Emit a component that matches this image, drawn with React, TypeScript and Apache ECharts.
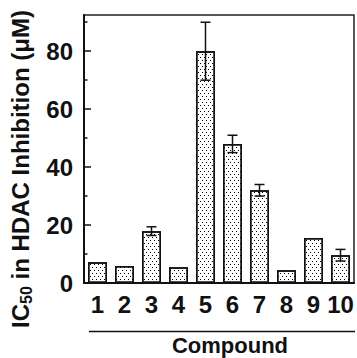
import React, { useEffect, useRef } from "react";
import * as echarts from "echarts";

const categories = ["1", "2", "3", "4", "5", "6", "7", "8", "9", "10"];
const ic50Values = [7.2, 5.9, 17.9, 5.4, 80, 48, 32, 4.4, 15.5, 9.6];
const ic50Errors = [0, 0, 1.5, 0, 10, 3, 2, 0, 0, 2];
const majorTicks = [0, 20, 40, 60, 80];
const minorTicks = [10, 30, 50, 70, 90];
const yMax = 92.5;

const FONT = "'Liberation Sans', Arial, Helvetica, sans-serif";

export default function App() {
  const ref = useRef<HTMLDivElement>(null);
  useEffect(() => {
    if (!ref.current) return;
    const chart = echarts.init(ref.current, undefined, { renderer: "svg" });
    const errData = ic50Values.map((v, i) => [i, v, ic50Errors[i]]);
    chart.setOption({
      animation: false,
      backgroundColor: "#fff",
      grid: {
        left: 84,
        top: 15,
        right: 3,
        bottom: 75,
        show: true,
        borderColor: "#222",
        borderWidth: 1.5,
        backgroundColor: "transparent",
      },
      xAxis: {
        type: "category",
        data: categories,
        axisLine: { lineStyle: { color: "#111", width: 2 } },
        axisTick: { show: false },
        axisLabel: {
          interval: 0,
          hideOverlap: false,
          color: "#111",
          fontSize: 24,
          fontWeight: "bold",
          fontFamily: FONT,
          margin: 9,
        },
      },
      yAxis: [
        {
          type: "value",
          min: 0,
          max: yMax,
          axisLine: { show: true, lineStyle: { color: "#111", width: 2 } },
          axisTick: {
            show: true,
            inside: true,
            length: 7,
            customValues: majorTicks,
            lineStyle: { color: "#111", width: 1.5 },
          },
          axisLabel: {
            customValues: majorTicks,
            color: "#111",
            fontSize: 24,
            fontWeight: "bold",
            fontFamily: FONT,
            margin: 11,
          },
          splitLine: { show: false },
        },
        {
          type: "value",
          min: 0,
          max: yMax,
          position: "left",
          axisLine: { show: false },
          axisTick: {
            show: true,
            inside: true,
            length: 3.5,
            customValues: minorTicks,
            lineStyle: { color: "#111", width: 1.5 },
          },
          axisLabel: { show: false },
          splitLine: { show: false },
        },
      ],
      series: [
        {
          type: "bar",
          data: ic50Values,
          barWidth: 19,
          itemStyle: {
            color: "#fff",
            borderColor: "#111",
            borderWidth: 1.5,
            decal: {
              symbol: "rect",
              symbolSize: 1,
              color: "#000",
              backgroundColor: "#fff",
              dashArrayX: [
                [1, 3],
                [0, 2, 1, 1],
              ],
              dashArrayY: [1, 1.5],
            },
          },
        },
        {
          type: "custom",
          data: errData,
          z: 5,
          renderItem: (params: any, api: any) => {
            const i = api.value(0);
            const v = api.value(1);
            const e = api.value(2);
            if (!e) return null;
            const hi = api.coord([i, v + e]);
            const lo = api.coord([i, v - e]);
            const x = hi[0];
            const hw = 5;
            const style = { stroke: "#111", lineWidth: 1.5 };
            return {
              type: "group",
              children: [
                { type: "line", shape: { x1: x, y1: hi[1], x2: x, y2: lo[1] }, style },
                { type: "line", shape: { x1: x - hw, y1: hi[1], x2: x + hw, y2: hi[1] }, style },
                { type: "line", shape: { x1: x - hw, y1: lo[1], x2: x + hw, y2: lo[1] }, style },
              ],
            };
          },
        },
      ],
      graphic: [
        {
          type: "text",
          x: 20,
          y: 169,
          rotation: Math.PI / 2,
          style: {
            text: "{a|IC}{s|50}{a| in HDAC Inhibition (μM)}",
            align: "center",
            verticalAlign: "middle",
            fill: "#111",
            rich: {
              a: {
                fontSize: 24,
                fontWeight: "bold",
                fontFamily: FONT,
                lineHeight: 28,
                fill: "#111",
              },
              s: {
                fontSize: 16,
                fontWeight: "bold",
                fontFamily: FONT,
                lineHeight: 16,
                verticalAlign: "bottom",
                fill: "#111",
              },
            },
          },
        },
        {
          type: "line",
          shape: { x1: 89, y1: 331.5, x2: 355, y2: 331.5 },
          style: { stroke: "#111", lineWidth: 1.5 },
        },
        {
          type: "text",
          x: 230,
          y: 345,
          style: {
            text: "Compound",
            align: "center",
            verticalAlign: "middle",
            fontSize: 22,
            fontWeight: "bold",
            fontFamily: FONT,
            fill: "#111",
          },
        },
      ],
    });
    return () => chart.dispose();
  }, []);
  return <div ref={ref} style={{ width: 357, height: 358, position: "absolute", left: 0, top: 0 }} />;
}
